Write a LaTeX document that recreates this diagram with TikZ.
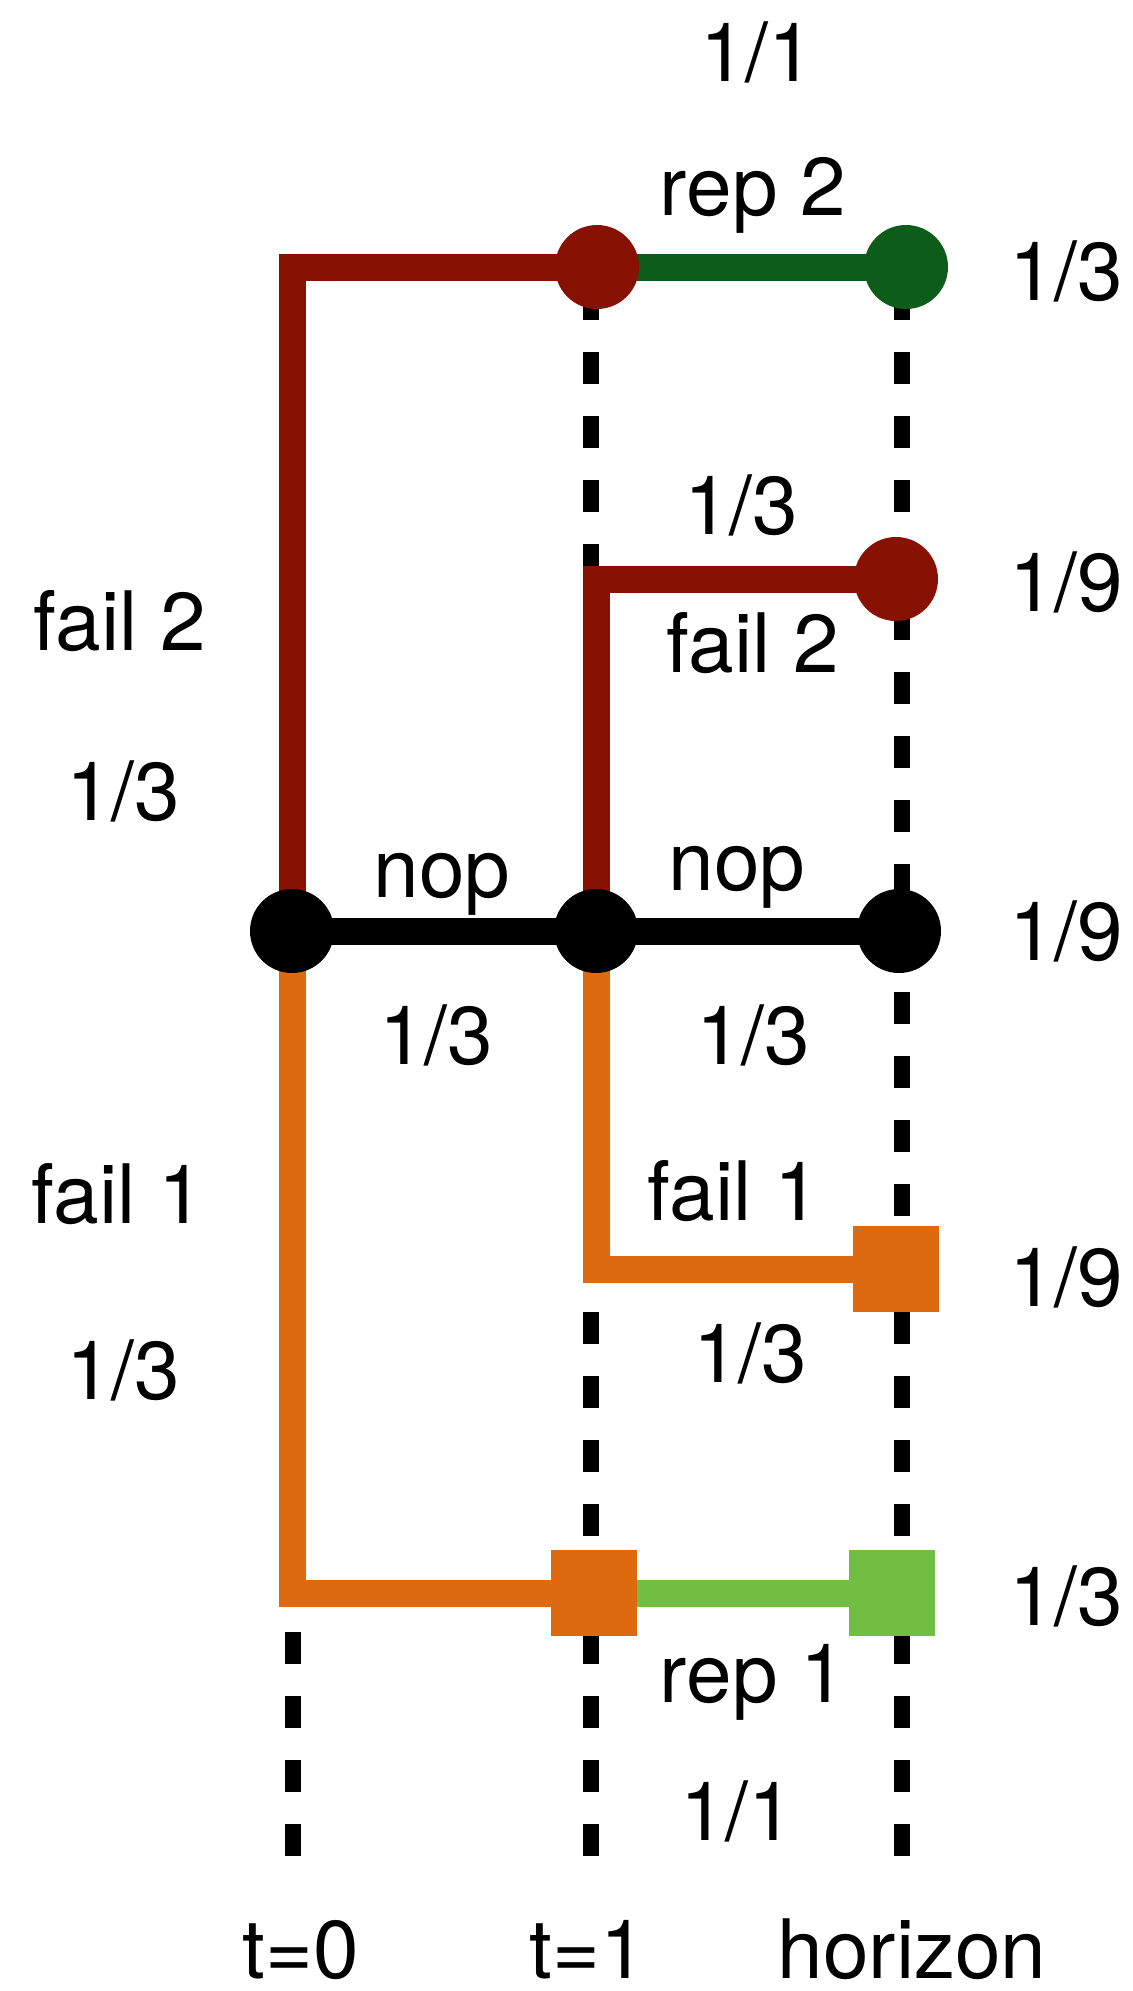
\documentclass[tikz,border=0pt]{standalone}
\usepackage{fontspec}
\setmainfont{TeX Gyre Heros}
\usetikzlibrary{backgrounds}
\definecolor{failtwo}{HTML}{871102}
\definecolor{reptwo}{HTML}{0E5C1A}
\definecolor{failone}{HTML}{DE6A10}
\definecolor{repone}{HTML}{72BE43}
\begin{document}
\begin{tikzpicture}[x=0.5pt,y=-0.5pt,
  lbl/.style={font=\fontsize{41}{49}\selectfont, anchor=base, inner sep=0pt},
  dot/.style={circle, inner sep=0pt, minimum size=42pt, draw=none},
  sq/.style={rectangle, inner sep=0pt, minimum size=43pt, draw=none},
  timeline/.style={line width=8pt, dash pattern=on 16pt off 16pt, black},
  branch/.style={line width=13.5pt, line join=miter}]
\useasboundingbox (0,0) rectangle (1132,1991);

% state nodes
\node[dot, fill=black] (b0) at (292,931) {};
\node[dot, fill=black] (b1) at (596,931) {};
\node[dot, fill=black] (b2) at (899,931) {};
\node[dot, fill=failtwo] (r1) at (597,267) {};
\node[dot, fill=reptwo] (g2) at (906,267) {};
\node[dot, fill=failtwo] (r2) at (896,579) {};
\node[sq, fill=failone] (o2) at (896,1269) {};
\node[sq, fill=failone] (o1) at (594,1593) {};
\node[sq, fill=repone] (lg) at (892,1593) {};

% ends of the time lines
\coordinate (t0top) at (293,1615);
\coordinate (t0bot) at (293,1856);
\coordinate (t1top) at (591,267);
\coordinate (t1bot) at (591,1856);
\coordinate (t2top) at (902,267);
\coordinate (t2bot) at (902,1856);

\begin{scope}[on background layer]
  \draw[timeline] (t0bot) -- (t0top);
  \draw[timeline] (t1bot) -- (t1top);
  \draw[timeline] (t2bot) -- (t2top);
  \draw[branch, failtwo] (b0.center) |- (r1.center);
  \draw[branch, reptwo] (r1.center) -- (g2.center);
  \draw[branch, failtwo] (b1.center) |- (r2.center);
  \draw[branch, failone] (b0.center) |- (o1.center);
  \draw[branch, failone] (b1.center) |- (o2.center);
  \draw[branch, repone] (o1.center) -- (lg.center);
  \draw[branch, black] (b0.center) -- (b1.center) -- (b2.center);
\end{scope}

% edge labels
\node[lbl] (pA) at (757,82) {1/1};
\node[lbl] (aA) at (753,215) {rep 2};
\node[lbl] (pB) at (741,534) {1/3};
\node[lbl] (aB) at (753,672) {fail 2};
\node[lbl] (aC) at (120,650) {fail 2};
\node[lbl] (pC) at (123,820) {1/3};
\node[lbl] (aD) at (442,897) {nop};
\node[lbl] (aE) at (737,890) {nop};
\node[lbl] (pD) at (436,1064) {1/3};
\node[lbl] (pE) at (753,1064) {1/3};
\node[lbl] (aF) at (118,1223) {fail 1};
\node[lbl] (aG) at (734,1220) {fail 1};
\node[lbl] (pF) at (123,1399) {1/3};
\node[lbl] (pG) at (750,1382) {1/3};
\node[lbl] (aH) at (753,1702) {rep 1};
\node[lbl] (pH) at (737,1840) {1/1};

% outcome probabilities
\node[lbl] (q1) at (1066,300) {1/3};
\node[lbl] (q2) at (1066,611) {1/9};
\node[lbl] (q3) at (1066,960) {1/9};
\node[lbl] (q4) at (1066,1306) {1/9};
\node[lbl] (q5) at (1066,1625) {1/3};

% time axis
\node[lbl] (x0) at (301,1978) {t=0};
\node[lbl] (x1) at (588,1978) {t=1};
\node[lbl] (x2) at (912,1978) {horizon};
\end{tikzpicture}
\end{document}
